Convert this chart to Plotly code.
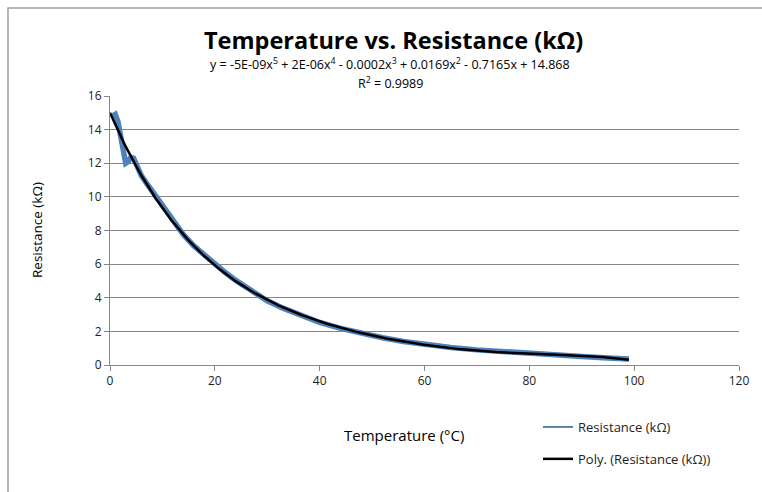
import numpy as np
import plotly.graph_objects as go

temperature = [0.5, 1.0, 1.5, 2.0, 2.5, 3.0, 3.5, 4.0, 4.5, 5, 6, 7, 8, 9, 10, 11, 12, 13, 14, 16, 18,
               20, 22, 24, 26, 28, 30, 33, 36, 40, 44, 48, 52, 56, 60, 65, 70, 75, 80, 85, 90, 95, 99]
resistance = [14.8, 14.9, 14.5, 13.7, 12.8, 12.0, 12.1, 12.35, 12.3, 11.9, 11.25, 10.8, 10.35, 9.9, 9.42,
              8.96, 8.52, 8.12, 7.75, 7.08, 6.52, 6.0, 5.5, 5.03, 4.6, 4.2, 3.82, 3.38, 2.98, 2.53, 2.18,
              1.88, 1.62, 1.4, 1.22, 1.04, 0.9, 0.78, 0.67, 0.58, 0.5, 0.42, 0.36]

x_ticks = [0, 20, 40, 60, 80, 100, 120]
y_ticks = [0, 2, 4, 6, 8, 10, 12, 14, 16]

title = "Temperature vs. Resistance (kΩ)"
equation = "y = -5E-09x<sup>5</sup> + 2E-06x<sup>4</sup> - 0.0002x<sup>3</sup> + 0.0169x<sup>2</sup> - 0.7165x + 14.868"
r2_text = "R<sup>2</sup> = 0.9989"
x_title = "Temperature (°C)"
y_title = "Resistance (kΩ)"

# polynomial trendline (order 5) fitted to the data
coef = np.polyfit(temperature, resistance, 5)
fit_x = np.linspace(0, max(temperature), 300)
fit_y = np.polyval(coef, fit_x)

FONT = "'Open Sans', Lato, sans-serif"

fig = go.Figure()
fig.add_trace(go.Scatter(x=temperature, y=resistance, mode="lines", name="Resistance (kΩ)",
                         line=dict(color="#4F81BD", width=5.5), showlegend=False))
fig.add_trace(go.Scatter(x=fit_x, y=fit_y, mode="lines", name="Poly. (Resistance (kΩ))",
                         line=dict(color="#000000", width=2.5), showlegend=False))
# legend entries (thin sample lines as in the reference)
fig.add_trace(go.Scatter(x=[None], y=[None], mode="lines", name="Resistance (kΩ)",
                         line=dict(color="#5B7FA8", width=2), legendgroup="a"))
fig.add_trace(go.Scatter(x=[None], y=[None], mode="lines", name="Poly. (Resistance (kΩ))",
                         line=dict(color="#000000", width=2.5), legendgroup="b"))

L, T, R, B = 110, 96, 23, 127
W, H = 762, 492
pw, ph = W - L - R, H - T - B

def px(xp):
    return (xp - L) / pw

def py(yp):
    return (H - B - yp) / ph

fig.update_layout(
    width=W, height=H,
    margin=dict(l=L, r=R, t=T, b=B, autoexpand=False),
    paper_bgcolor="white", plot_bgcolor="white",
    font=dict(family=FONT, color="#000000", size=12),
    showlegend=True,
    legend=dict(xref="container", yref="container", x=538 / W, y=1 - 412 / H,
                xanchor="left", yanchor="top",
                traceorder="grouped", tracegroupgap=12,
                font=dict(size=13, family=FONT, color="#222222"),
                bgcolor="rgba(0,0,0,0)", itemwidth=30),
    xaxis=dict(range=[0, 120], tickvals=x_ticks, ticks="outside", ticklen=5,
               tickcolor="#868686", showline=True, linecolor="#868686", linewidth=1,
               showgrid=False, zeroline=False,
               tickfont=dict(size=12, family=FONT, color="#222222")),
    yaxis=dict(range=[0, 16], tickvals=y_ticks, ticks="outside", ticklen=5,
               tickcolor="#868686", showline=True, linecolor="#868686", linewidth=1,
               showgrid=True, gridcolor="#868686", gridwidth=1, zeroline=False,
               tickfont=dict(size=12, family=FONT, color="#222222")),
    annotations=[
        dict(text="<b>" + title + "</b>", x=px(393), y=py(40), xref="paper", yref="paper",
             showarrow=False, font=dict(size=23.5, family=FONT, color="#000000"), yanchor="middle"),
        dict(text=equation, x=px(390), y=py(64), xref="paper", yref="paper",
             showarrow=False, font=dict(size=12.5, family=FONT, color="#000000"), yanchor="middle"),
        dict(text=r2_text, x=px(390), y=py(83), xref="paper", yref="paper",
             showarrow=False, font=dict(size=12.5, family=FONT, color="#000000"), yanchor="middle"),
        dict(text=x_title, x=px(404), y=py(435), xref="paper", yref="paper",
             showarrow=False, font=dict(size=15, family=FONT, color="#000000"), yanchor="middle"),
        dict(text=y_title, x=px(37), y=py(230), xref="paper", yref="paper", textangle=-90,
             showarrow=False, font=dict(size=13.5, family=FONT, color="#000000"),
             xanchor="center", yanchor="middle"),
    ],
    shapes=[
        dict(type="rect", xref="paper", yref="paper", x0=px(8), y0=py(500), x1=px(775), y1=py(8),
             line=dict(color="#A0A0A0", width=1.5), layer="below"),
    ],
)

fig.write_html("out.html", config={"displayModeBar": False},
               post_script="document.body.style.margin='0';document.body.style.overflow='hidden';")
